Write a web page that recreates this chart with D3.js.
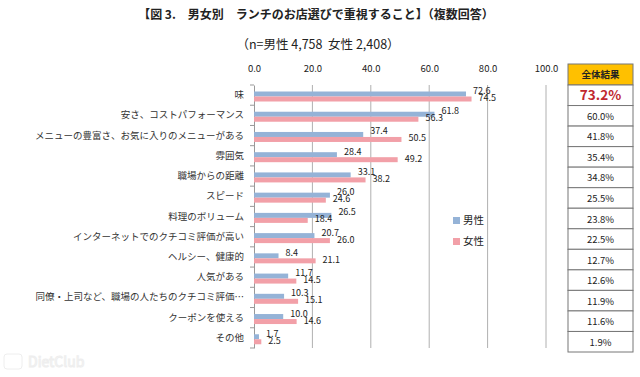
<!DOCTYPE html>
<html lang="ja">
<head>
<meta charset="utf-8">
<title>ランチのお店選び</title>
<script src="https://cdn.jsdelivr.net/npm/d3@7"></script>
<style>
  body { margin: 0; background: #fff; }
  text { font-family: "Noto Sans CJK JP", "DejaVu Sans", sans-serif; white-space: pre; }
</style>
</head>
<body>
<svg width="640" height="377"></svg>
<script>
const categories = ["味", "安さ、コストパフォーマンス", "メニューの豊富さ、お気に入りのメニューがある", "雰囲気",
  "職場からの距離", "スピード", "料理のボリューム", "インターネットでのクチコミ評価が高い", "ヘルシー、健康的",
  "人気がある", "同僚・上司など、職場の人たちのクチコミ評価…", "クーポンを使える", "その他"];
const male = [72.6, 61.8, 37.4, 28.4, 33.1, 26.0, 26.5, 20.7, 8.4, 11.7, 10.3, 10.0, 1.7];
const female = [74.5, 56.3, 50.5, 49.2, 38.2, 24.6, 18.4, 26.0, 21.1, 14.5, 15.1, 14.6, 2.5];
const overall = ["73.2%", "60.0%", "41.8%", "35.4%", "34.8%", "25.5%", "23.8%", "22.5%", "12.7%", "12.6%", "11.9%", "11.6%", "1.9%"];
const xTicks = [0, 20, 40, 60, 80, 100];
const seriesNames = ["男性", "女性"];
const colors = ["#95B3D7", "#F2A0A8"];

const svg = d3.select('svg');
const plotL = 254, plotR = 546, plotT = 85, plotB = 348;

const x = d3.scaleLinear().domain([0, 100]).range([plotL, plotR]);
const y = d3.scaleBand().domain(categories).range([plotT, plotB]);
const bh = 5;

// title
svg.append('text').attr('x', 316).attr('y', 19).attr('text-anchor', 'middle')
  .attr('font-size', 12).attr('font-weight', 'bold').attr('fill', '#222')
  .text('【図 3.　男女別　ランチのお店選びで重視すること】（複数回答）');
svg.append('text').attr('x', 318).attr('y', 49).attr('text-anchor', 'middle')
  .attr('font-size', 12.5).attr('fill', '#222')
  .text('（n=男性 4,758  女性 2,408）');

// grid
svg.append('g').selectAll('line').data(xTicks.slice(1)).join('line')
  .attr('x1', d => x(d)).attr('x2', d => x(d))
  .attr('y1', plotT).attr('y2', plotB)
  .attr('stroke', '#b0b0b0').attr('stroke-width', 1);

// x axis labels on top
const xAxis = d3.axisTop(x).tickValues(xTicks).tickFormat(d3.format('.1f')).tickSize(0).tickPadding(0);
const xg = svg.append('g').attr('transform', `translate(0, 72)`).call(xAxis);
xg.select('.domain').remove();
xg.selectAll('text').attr('font-size', 9.5).attr('fill', '#222')
  .attr('font-family', '"DejaVu Sans", sans-serif');

// y axis
const yAxis = d3.axisLeft(y).tickSize(0).tickPadding(10);
const yg = svg.append('g').attr('transform', `translate(${plotL}, 0)`).call(yAxis);
yg.select('.domain').attr('stroke', '#999');
yg.selectAll('text').attr('font-size', 9.5).attr('fill', '#333')
  .attr('font-family', '"Noto Sans CJK JP", sans-serif');
// category boundary ticks
svg.append('g').selectAll('line').data(d3.range(categories.length + 1)).join('line')
  .attr('x1', plotL - 4).attr('x2', plotL)
  .attr('y1', i => plotT + i * y.step()).attr('y2', i => plotT + i * y.step())
  .attr('stroke', '#999');

// bars
const series = [male, female];
series.forEach((vals, s) => {
  const g = svg.append('g');
  g.selectAll('rect').data(vals).join('rect')
    .attr('x', x(0))
    .attr('y', (d, i) => y(categories[i]) + 6.5 + s * bh)
    .attr('width', d => x(d) - x(0))
    .attr('height', bh)
    .attr('fill', colors[s]);
  g.selectAll('text').data(vals).join('text')
    .attr('x', d => x(d) + 7)
    .attr('y', (d, i) => y(categories[i]) + (s === 0 ? 9 : 16))
    .attr('font-size', 9).attr('fill', '#222')
    .attr('font-family', '"DejaVu Sans", sans-serif')
    .text(d => d.toFixed(1));
});

// legend
const lg = svg.append('g');
seriesNames.forEach((n, i) => {
  lg.append('rect').attr('x', 453).attr('y', 217 + i * 21).attr('width', 7).attr('height', 7).attr('fill', colors[i]);
  lg.append('text').attr('x', 463).attr('y', 224 + i * 21).attr('font-size', 10.5).attr('fill', '#222').text(n);
});

// overall table
const tx = 568, tw = 65, rowTop = 85, rowH = (352 - rowTop) / overall.length;
svg.append('rect').attr('x', tx).attr('y', 64).attr('width', tw).attr('height', rowTop - 64)
  .attr('fill', '#FFC000').attr('stroke', '#777');
svg.append('text').attr('x', tx + tw / 2).attr('y', 78).attr('text-anchor', 'middle')
  .attr('font-size', 9.5).attr('font-weight', 'bold').attr('fill', '#222').text('全体結果');
const tg = svg.append('g');
tg.selectAll('rect').data(overall).join('rect')
  .attr('x', tx).attr('y', (d, i) => rowTop + i * rowH)
  .attr('width', tw).attr('height', rowH)
  .attr('fill', '#fff').attr('stroke', '#777');
tg.selectAll('text').data(overall).join('text')
  .attr('x', tx + tw / 2).attr('y', (d, i) => rowTop + i * rowH + rowH / 2 + (i === 0 ? 5 : 4))
  .attr('text-anchor', 'middle')
  .attr('font-family', '"DejaVu Sans", sans-serif')
  .attr('font-size', (d, i) => i === 0 ? 13.5 : 9.5)
  .attr('font-weight', (d, i) => i === 0 ? 'bold' : 'normal')
  .attr('fill', (d, i) => i === 0 ? '#C0282E' : '#222')
  .text(d => d);

// watermark
svg.append('text').attr('x', 28).attr('y', 367).attr('font-size', 14)
  .attr('fill', 'none').attr('stroke', '#eee').attr('font-family', '"DejaVu Sans", sans-serif')
  .text('DietClub');
svg.append('rect').attr('x', 4).attr('y', 354).attr('width', 18).attr('height', 15).attr('rx', 3)
  .attr('fill', 'none').attr('stroke', '#eee');
</script>
</body>
</html>
